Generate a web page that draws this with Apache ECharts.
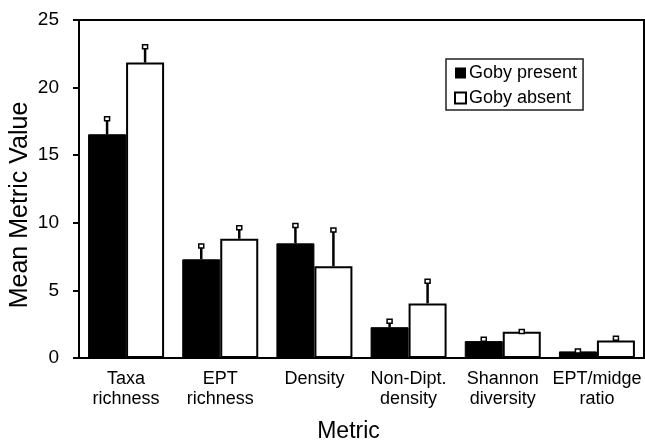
<!DOCTYPE html>
<html>
<head>
<meta charset="utf-8">
<script src="https://cdn.jsdelivr.net/npm/echarts@6/dist/echarts.min.js"></script>
<style>
  html, body { margin: 0; padding: 0; background: #fff; }
  #main { width: 645px; height: 442px; }
</style>
</head>
<body>
<div id="main"></div>
<script>
var metrics = ['Taxa\nrichness', 'EPT\nrichness', 'Density', 'Non-Dipt.\ndensity', 'Shannon\ndiversity', 'EPT/midge\nratio'];
var gobyPresent = [16.55, 7.3, 8.48, 2.28, 1.25, 0.49];
var gobyPresentErr = [17.74, 8.33, 9.83, 2.75, 1.42, 0.56];
var gobyAbsent = [21.85, 8.82, 6.79, 4.04, 1.94, 1.3];
var gobyAbsentErr = [23.05, 9.68, 9.51, 5.71, 1.99, 1.5];
var yTicks = [0, 5, 10, 15, 20, 25];

var font = '"Liberation Sans", Arial, sans-serif';

// error bar: stem + small hollow cap, shifted to the bar's half of the group
function errorBar(shift) {
    return function (params, api) {
        var base = api.coord([api.value(0), api.value(1)]);
        var top = api.coord([api.value(0), api.value(2)]);
        var x = base[0] + shift;
        return {
            type: 'group',
            children: [
                {
                    type: 'line',
                    shape: { x1: x, y1: base[1], x2: x, y2: top[1] + 2 },
                    style: { stroke: '#000', lineWidth: 2.5 }
                },
                {
                    type: 'rect',
                    shape: { x: x - 2.5, y: top[1] - 1.5, width: 5, height: 4 },
                    style: { fill: '#fff', stroke: '#000', lineWidth: 1.5 }
                }
            ]
        };
    };
}

function errData(vals, errs) {
    return vals.map(function (v, i) { return [i, v, errs[i]]; });
}

var option = {
    animation: false,
    textStyle: { fontFamily: font },
    grid: {
        left: 79, right: 1, top: 20, bottom: 84,
        outerBoundsMode: 'none', containLabel: false,
        show: true, borderColor: '#000', borderWidth: 2
    },
    legend: {
        left: 446, top: 59,
        orient: 'vertical',
        icon: 'rect',
        itemWidth: 11, itemHeight: 11, itemGap: 7,
        padding: [5, 6, 3, 8],
        borderColor: '#222', borderWidth: 1.5,
        textStyle: { fontSize: 18, color: '#000', fontFamily: font, padding: [0, 0, 0, -2] },
        data: [
            { name: 'Goby present', itemStyle: { color: '#000', borderWidth: 0 } },
            { name: 'Goby absent', itemStyle: { color: '#fff', borderColor: '#000', borderWidth: 2 } }
        ]
    },
    xAxis: {
        type: 'category',
        data: metrics,
        name: 'Metric',
        nameLocation: 'middle',
        nameGap: 62,
        nameMoveOverlap: false,
        nameTextStyle: { fontSize: 23, color: '#000', fontFamily: font, padding: [0, 26, 0, 0] },
        axisLine: { lineStyle: { color: '#000', width: 2 } },
        axisTick: { show: false },
        axisLabel: { color: '#000', fontSize: 18, lineHeight: 20, margin: 11, interval: 0, fontFamily: font }
    },
    yAxis: {
        type: 'value',
        min: 0, max: 25, interval: 5,
        name: 'Mean Metric Value',
        nameLocation: 'middle',
        nameGap: 46,
        nameMoveOverlap: false,
        nameTextStyle: { fontSize: 25, color: '#000', fontFamily: font, padding: [0, 32, 0, 0] },
        axisLine: { show: true, lineStyle: { color: '#000', width: 2 } },
        axisTick: { show: true, inside: false, length: 6, lineStyle: { color: '#000', width: 2 } },
        splitLine: { show: false },
        axisLabel: {
            color: '#000', fontSize: 19, margin: 20, fontFamily: font,
            formatter: function (v) { return yTicks.indexOf(v) >= 0 ? String(v) : ''; }
        }
    },
    series: [
        {
            name: 'Goby present', type: 'bar', data: gobyPresent,
            barWidth: 38, barGap: '0%',
            itemStyle: { color: '#000', borderColor: '#000', borderWidth: 1 }
        },
        {
            name: 'Goby absent', type: 'bar', data: gobyAbsent,
            barWidth: 38, barGap: '0%',
            itemStyle: { color: '#fff', borderColor: '#000', borderWidth: 2 }
        },
        {
            name: 'present err', type: 'custom', renderItem: errorBar(-19),
            data: errData(gobyPresent, gobyPresentErr), z: 5, silent: true
        },
        {
            name: 'absent err', type: 'custom', renderItem: errorBar(19),
            data: errData(gobyAbsent, gobyAbsentErr), z: 5, silent: true
        }
    ]
};

var chart = echarts.init(document.getElementById('main'));
chart.setOption(option);
</script>
</body>
</html>
